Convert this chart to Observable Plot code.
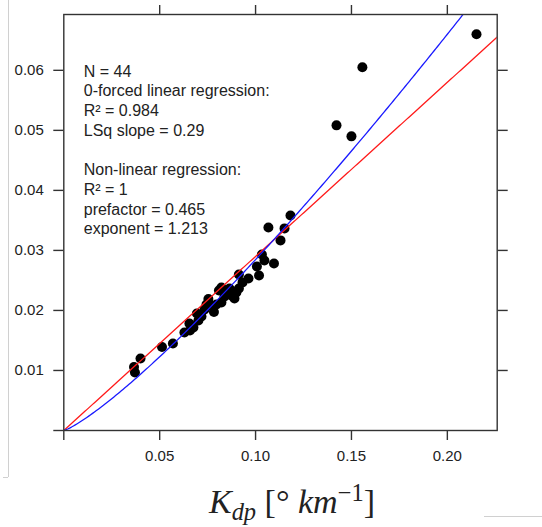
<!DOCTYPE html>
<html>
<head>
<meta charset="utf-8">
<script src="https://cdn.jsdelivr.net/npm/d3@7"></script>
<script src="https://cdn.jsdelivr.net/npm/@observablehq/plot@0.6"></script>
<style>
  html, body { margin: 0; padding: 0; background: #fff; }
  #wrap { position: relative; width: 542px; height: 527px; overflow: hidden; }
  #xlabel { position: absolute; left: 21px; width: 542px; top: 478px; text-align: center;
            font-family: "Liberation Serif", "DejaVu Serif", serif; font-size: 34px; color: #222; white-space: nowrap; line-height: 1.2; }
  #xlabel sub { font-size: 0.72em; vertical-align: -0.28em; }
  #xlabel sup { font-size: 0.72em; vertical-align: 0.5em; }
  .edge1 { position: absolute; left: 8px; top: 0; width: 0; height: 477px; border-left: 1px solid #d0d0d0; }
  .edge2 { position: absolute; left: 3px; top: 477px; width: 5px; height: 0; border-top: 1px solid #d0d0d0; }
  .edge3 { position: absolute; left: 484px; top: 516px; width: 58px; height: 0; border-top: 1px solid #d0d0d0; }
</style>
</head>
<body>
<div id="wrap">
  <div id="chart"></div>
  <div id="xlabel"><i>K</i><sub><i>dp</i></sub> [° <i>km</i><sup>−1</sup>]</div>
  <div class="edge1"></div><div class="edge2"></div><div class="edge3"></div>
</div>
<script>
// Observed data points (Kdp, y)
const kdp = [0.0366,0.0371,0.0400,0.0512,0.0569,0.0629,0.0658,0.0655,0.0676,0.0702,
             0.0694,0.0718,0.0734,0.0754,0.0765,0.0783,0.0796,0.0809,0.0822,0.0838,
             0.0853,0.0874,0.0890,0.0913,0.0913,0.0932,0.0963,0.1007,0.1018,0.1033,
             0.1046,0.1096,0.1067,0.1130,0.1151,0.1182,0.0822,0.0744,0.0864,0.0900,
             0.1422,0.1500,0.1557,0.2152];
const yval = [0.01058,0.00967,0.01200,0.01392,0.01450,0.01633,0.01667,0.01783,0.01717,0.01833,
              0.01950,0.01900,0.02017,0.02192,0.02083,0.01975,0.02100,0.02333,0.02133,0.02233,
              0.02283,0.02250,0.02200,0.02367,0.02600,0.02467,0.02533,0.02733,0.02583,0.02933,
              0.02833,0.02783,0.03383,0.03167,0.03367,0.03583,0.02383,0.02100,0.02367,0.02300,
              0.05083,0.04900,0.06050,0.06600];

// Regression parameters (from the chart annotation)
const lsqSlope = 0.29;
const prefactor = 0.465;
const exponent = 1.213;

// Axis ticks
const xTicks = [0, 0.05, 0.10, 0.15, 0.20];
const yTicks = [0, 0.01, 0.02, 0.03, 0.04, 0.05, 0.06];
const xTopTicks = [0.05, 0.10, 0.15, 0.20];
const yRightTicks = [0.01, 0.02, 0.03, 0.04, 0.05, 0.06];

const annotation = [
  "N = 44",
  "0-forced linear regression:",
  "R² = 0.984",
  "LSq slope = 0.29",
  "",
  "Non-linear regression:",
  "R² = 1",
  "prefactor = 0.465",
  "exponent = 1.213"
].join("\n");

const points = kdp.map((x, i) => ({x, y: yval[i]}));
const xDomain = [0, 0.226];
const curveX = d3.range(0, 0.2261, 0.001);
const linFit = curveX.map(x => ({x, y: lsqSlope * x}));
const powFit = curveX.map(x => ({x, y: prefactor * Math.pow(x, exponent)}));

const fmt = d => d === 0 ? "" : d3.format(".2f")(d);
const noLabel = () => "";

const chart = Plot.plot({
  width: 542,
  height: 470,
  marginLeft: 63.3,
  marginRight: 45.3,
  marginTop: 14,
  marginBottom: 40,
  x: {domain: xDomain},
  y: {domain: [0, 0.0693]},
  style: {fontFamily: "'Liberation Sans', Arial, sans-serif", fontSize: "15px", color: "#222", background: "white", overflow: "visible"},
  marks: [
    Plot.dot(points, {x: "x", y: "y", r: 5, fill: "black", stroke: null}),
    Plot.line(linFit, {x: "x", y: "y", stroke: "#ff1a1a", strokeWidth: 1.3, clip: true}),
    Plot.line(powFit, {x: "x", y: "y", stroke: "#1a1aff", strokeWidth: 1.3, clip: true}),
    Plot.frame({stroke: "#333", strokeWidth: 1.4}),
    Plot.axisX({anchor: "bottom", ticks: xTicks, tickSize: 10, tickPadding: 10, tickFormat: fmt, label: null, stroke: "#333", strokeWidth: 1.4}),
    Plot.axisY({anchor: "left", ticks: yTicks, tickSize: 10, tickPadding: 10, tickFormat: fmt, label: null, stroke: "#333", strokeWidth: 1.4}),
    Plot.axisX({anchor: "top", ticks: xTopTicks, tickSize: 10, tickFormat: noLabel, label: null, stroke: "#333", strokeWidth: 1.4}),
    Plot.axisY({anchor: "right", ticks: yRightTicks, tickSize: 10, tickFormat: noLabel, label: null, stroke: "#333", strokeWidth: 1.4}),
    Plot.text([annotation], {x: () => 0.0104, y: () => 0.06, text: d => d, textAnchor: "start", lineAnchor: "middle", lineHeight: 1.231, fontSize: 16, fill: "#222", dy: 78.8})
  ]
});
document.getElementById("chart").appendChild(chart);
</script>
</body>
</html>
